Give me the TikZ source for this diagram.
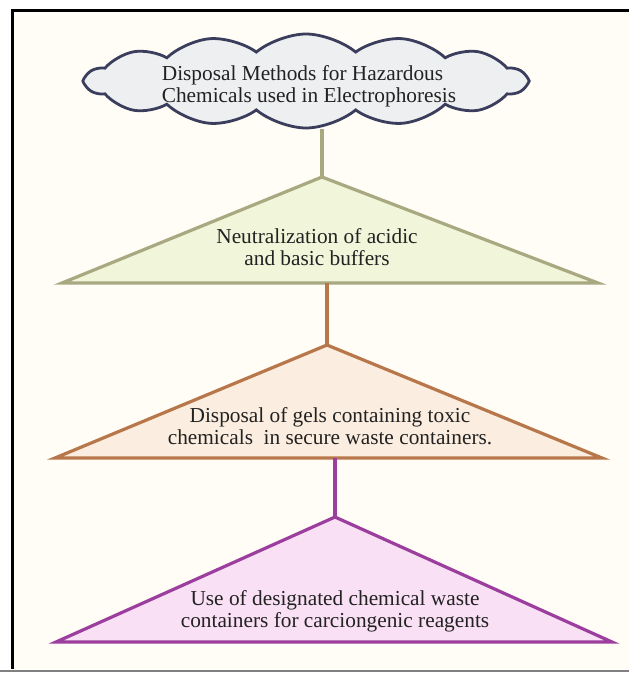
\documentclass[tikz,border=0pt]{standalone}
\usepackage{fontspec}
\setmainfont{Liberation Serif}
\usetikzlibrary{shapes.symbols}

\definecolor{paper}{HTML}{FFFDF5}
\definecolor{cloudline}{HTML}{3A3E5C}
\definecolor{cloudfill}{HTML}{EEEFF1}
\definecolor{neutline}{HTML}{A8A881}
\definecolor{neutfill}{HTML}{F1F6DA}
\definecolor{gelline}{HTML}{B8764B}
\definecolor{gelfill}{HTML}{FBEDDF}
\definecolor{wasteline}{HTML}{9C3E9E}
\definecolor{wastefill}{HTML}{F9E0F5}
\definecolor{textcol}{HTML}{222222}

\begin{document}
\begin{tikzpicture}[x=1bp, y=-1bp]
	\tikzstyle{cloud_box} = [cloud, cloud puffs=14, cloud puff arc=80, cloud ignores aspect, draw=cloudline, fill=cloudfill, line width=2.8bp, minimum width=440bp, minimum height=94bp, inner sep=0pt]
	\tikzstyle{level_text} = [align=center, inner sep=0pt, text=textcol, font=\fontsize{21.4}{22.5}\selectfont]
	\tikzstyle{level_tri} = [line width=3.2bp, line join=miter]
	\tikzstyle{stem} = [line width=3.2bp]

%------------------------------------------------------------
	\useasboundingbox (0,0) rectangle (629,673);
	\fill[white] (0,0) rectangle (629,673);
	\fill[paper] (12,11) rectangle (629,669);
	\draw[black, line width=3bp] (12,669) -- (12,11) -- (629,11);
	\draw[gray, line width=2bp] (0,671) -- (629,671);

%------------------------------------------------------------
	\node[cloud_box] (cloud) at (306,81) {};
	\node[level_text, align=left] (title) at (309,86) {Disposal Methods for Hazardous\\Chemicals used in Electrophoresis};

%------------------------------------------------------------
	\coordinate (neut_top)   at (322,177);
	\coordinate (neut_left)  at (62,283);
	\coordinate (neut_right) at (598,283);
	\filldraw[level_tri, draw=neutline, fill=neutfill] (neut_top) -- (neut_right) -- (neut_left) -- cycle;
	\node[level_text] (neut) at (317,247) {Neutralization of acidic\\and basic buffers};
	\draw[stem, neutline] (neut_top |- cloud.south) -- (neut_top);

%------------------------------------------------------------
	\coordinate (gel_top)   at (327,345);
	\coordinate (gel_left)  at (55,458);
	\coordinate (gel_right) at (602,458);
	\filldraw[level_tri, draw=gelline, fill=gelfill] (gel_top) -- (gel_right) -- (gel_left) -- cycle;
	\node[level_text] (gel) at (330,426) {Disposal of gels containing toxic\\chemicals\ \ in secure waste containers.};
	\draw[stem, gelline] (gel_top |- neut_left) -- (gel_top);

%------------------------------------------------------------
	\coordinate (waste_top)   at (335,517);
	\coordinate (waste_left)  at (56,642);
	\coordinate (waste_right) at (612,642);
	\filldraw[level_tri, draw=wasteline, fill=wastefill] (waste_top) -- (waste_right) -- (waste_left) -- cycle;
	\node[level_text] (waste) at (335,611) {Use of designated chemical waste\\containers for carciongenic reagents};
	\draw[stem, wasteline] (waste_top |- gel_left) -- (waste_top);

\end{tikzpicture}
\end{document}
